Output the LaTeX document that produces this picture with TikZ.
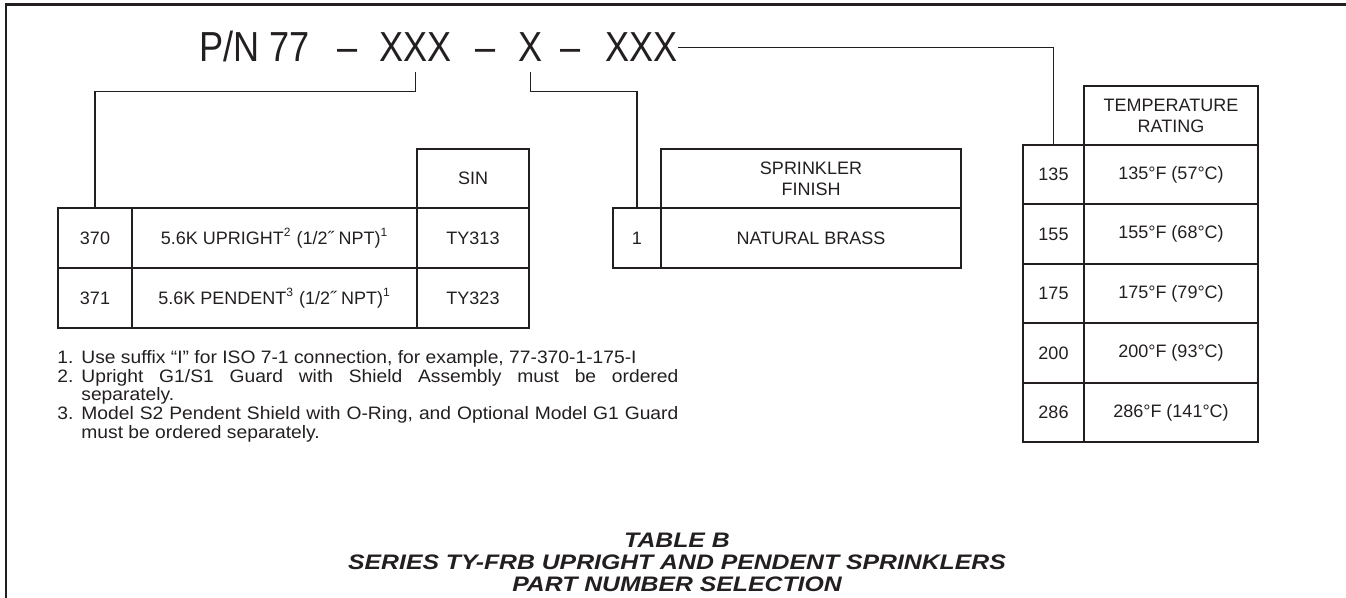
\documentclass[tikz,border=0pt]{standalone}
\usepackage{fontspec}
\setmainfont{Liberation Sans}
\newfontfamily\pnfont[FakeStretch = 0.86]{Liberation Sans}
\newfontfamily\notefont[FakeStretch = 1.07]{Liberation Sans}
\newfontfamily\capfont[FakeStretch = 1.18]{Liberation Sans}
\definecolor{ink}{RGB}{35,31,32}
\tikzset{
  cell/.style = {draw = ink, line width = 1pt, inner sep = 0pt, align = center,
    minimum height = 30pt, text = ink, font = \fontsize{9pt}{10.5pt}\selectfont},
  head/.style = {cell, minimum height = 29.5pt},
  link/.style = {draw = ink, line width = 0.8pt},
  pnpart/.style = {anchor = base west, inner xsep = 0pt, inner ysep = 5pt, text = ink,
    font = \pnfont\fontsize{21pt}{24pt}\selectfont},
}
\begin{document}
\begin{tikzpicture}[x = 0.5pt, y = -0.5pt]
      \useasboundingbox (0, 0) rectangle (1346, 598);
      \draw [ink, line width = 1.4pt] (6, 600) -- (6, 4.5) -- (1350, 4.5);
      \node [pnpart] (pn) at (199, 62) {P/N 77};
      \node [pnpart] (dasha) at (337, 62) {–};
      \node [pnpart] (xxxa) at (379, 62) {XXX};
      \node [pnpart] (dashb) at (475, 62) {–};
      \node [pnpart] (xb) at (518, 62) {X};
      \node [pnpart] (dashc) at (560, 62) {–};
      \node [pnpart] (xxxc) at (605, 62) {XXX};
      \node [head, minimum width = 56pt] (sinhead) at (473, 178.5) {SIN};
      \node [cell, minimum width = 37pt] (c370) at (95, 238) {370};
      \node [cell, minimum width = 142.5pt] (d370) at (274.5, 238)
        {5.6K UPRIGHT\textsuperscript{2} (1/2˝ NPT)\textsuperscript{1}};
      \node [cell, minimum width = 56pt] (s370) at (473, 238) {TY313};
      \node [cell, minimum width = 37pt] (c371) at (95, 298) {371};
      \node [cell, minimum width = 142.5pt] (d371) at (274.5, 298)
        {5.6K PENDENT\textsuperscript{3} (1/2˝ NPT)\textsuperscript{1}};
      \node [cell, minimum width = 56pt] (s371) at (473, 298) {TY323};
      \node [head, minimum width = 150pt] (finhead) at (811, 178.5) {SPRINKLER\\FINISH};
      \node [cell, minimum width = 24pt] (f1) at (637, 238) {1};
      \node [cell, minimum width = 150pt] (fbrass) at (811, 238) {NATURAL BRASS};
      \node [head, minimum width = 87pt] (temphead) at (1171, 115.5) {TEMPERATURE\\RATING};
      \foreach \code/\rating [count = \i] in {135/{135°F (57°C)}, 155/{155°F (68°C)},
          175/{175°F (79°C)}, 200/{200°F (93°C)}, 286/{286°F (141°C)}}{
        \node [cell, minimum width = 30.5pt, minimum height = 29.75pt] (t\code)
          at (1053.5, {115.25 + 59.5*\i}) {\code};
        \node [cell, minimum width = 87pt, minimum height = 29.75pt] (r\code)
          at (1171, {115.25 + 59.5*\i}) {\rating};
      }
      \draw [link] (xxxa.south) -- ++(0, 19) -| (c370.north);
      \draw [link] (xb.south) -- ++(0, 19) -| (f1.north);
      \draw [link] (xxxc.east) -| (t135.north);
      \node [anchor = north west, inner sep = 0pt, text width = 310.5pt, align = justify,
        text = ink, font = \notefont\fontsize{9pt}{7.75pt}\selectfont] (notes) at (57, 350) {%
        \hangindent=12pt\hangafter=1 \makebox[12pt][l]{1.}Use suffix “I” for ISO 7-1 connection, for example, 77-370-1-175-I\par
        \hangindent=12pt\hangafter=1 \makebox[12pt][l]{2.}Upright G1/S1 Guard with Shield Assembly must be ordered\linebreak separately.\par
        \hangindent=12pt\hangafter=1 \makebox[12pt][l]{3.}Model S2 Pendent Shield with O-Ring, and Optional Model G1 Guard\linebreak must be ordered separately.\par};
      \node [anchor = north, inner sep = 0pt, align = center, text = ink,
        font = \capfont\bfseries\itshape\fontsize{10.5pt}{11pt}\selectfont] (caption) at (677, 533)
        {TABLE B\\SERIES TY-FRB UPRIGHT AND PENDENT SPRINKLERS\\PART NUMBER SELECTION};
    \end{tikzpicture}
\end{document}
